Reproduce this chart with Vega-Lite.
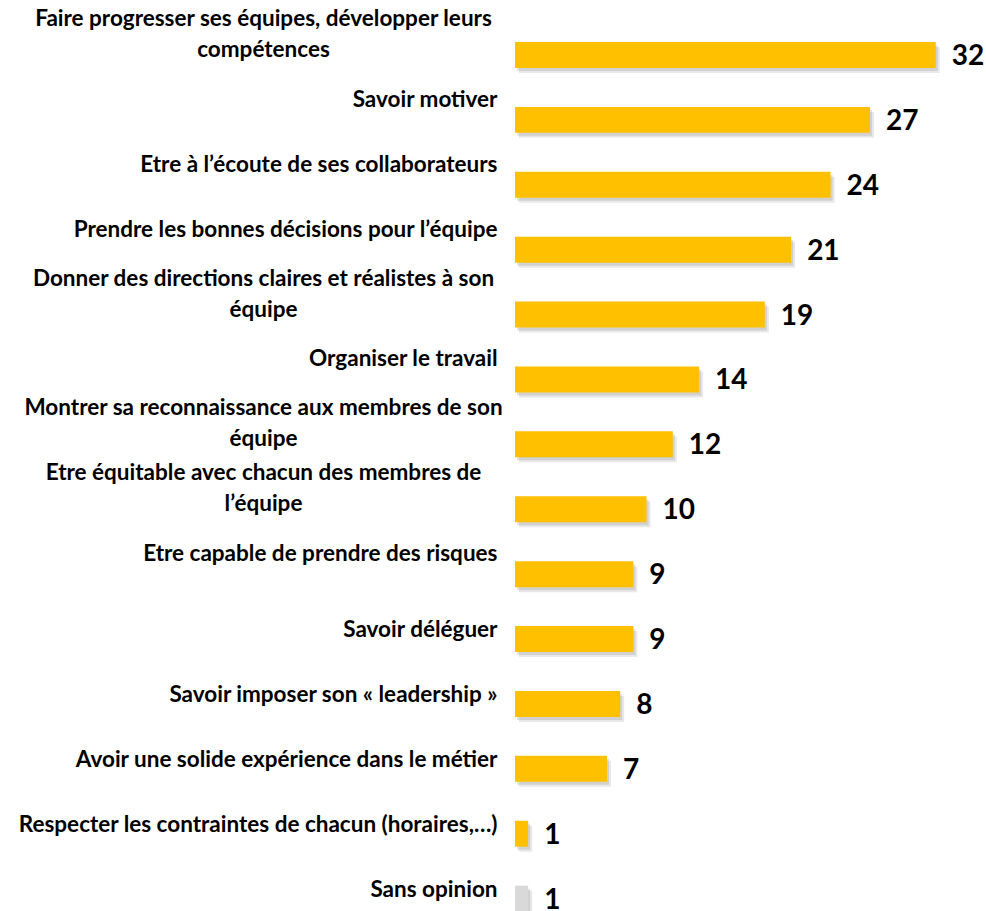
{
  "$schema": "https://vega.github.io/schema/vega-lite/v6.json",
  "width": 471,
  "height": 911,
  "autosize": {"type": "none"},
  "padding": {"left": 515, "top": 0, "right": 0, "bottom": 0},
  "background": "white",
  "config": {"view": {"stroke": null}},
  "data": {
    "values": [
      {"label": "Faire progresser ses équipes, développer leurs|compétences", "value": 32},
      {"label": "Savoir motiver", "value": 27},
      {"label": "Etre à l’écoute de ses collaborateurs", "value": 24},
      {"label": "Prendre les bonnes décisions pour l’équipe", "value": 21},
      {"label": "Donner des directions claires et réalistes à son|équipe", "value": 19},
      {"label": "Organiser le travail", "value": 14},
      {"label": "Montrer sa reconnaissance aux membres de son|équipe", "value": 12},
      {"label": "Etre équitable avec chacun des membres de|l’équipe", "value": 10},
      {"label": "Etre capable de prendre des risques", "value": 9},
      {"label": "Savoir déléguer", "value": 9},
      {"label": "Savoir imposer son « leadership »", "value": 8},
      {"label": "Avoir une solide expérience dans le métier", "value": 7},
      {"label": "Respecter les contraintes de chacun (horaires,…)", "value": 1},
      {"label": "Sans opinion", "value": 1}
    ]
  },
  "encoding": {
    "y": {
      "field": "label",
      "type": "nominal",
      "sort": null,
      "scale": {"range": [0, 953.6], "paddingInner": 0.6, "paddingOuter": 0.647},
      "axis": {
        "title": null,
        "domain": false,
        "ticks": false,
        "grid": false,
        "labelExpr": "split(datum.label, '|')",
        "labelFont": "Lato",
        "labelFontWeight": "bold",
        "labelFontSize": 22.5,
        "labelColor": "#000000",
        "labelLimit": 0,
        "labelLineHeight": 31,
        "labelOverlap": false,
        "labelBound": false,
        "labelBaseline": "middle",
        "labelAlign": {"condition": {"test": "indexof(datum.value, '|') >= 0", "value": "center"}, "value": "right"},
        "labelPadding": {"condition": {"test": "indexof(datum.value, '|') >= 0", "value": 252}, "value": 18},
        "labelOffset": {
          "condition": [
            {"test": "indexof(datum.value, '|') >= 0", "value": -36},
            {"test": "indexof(['Savoir déléguer','Savoir imposer son « leadership »','Avoir une solide expérience dans le métier','Respecter les contraintes de chacun (horaires,…)','Sans opinion'], datum.value) >= 0", "value": -9}
          ],
          "value": -20
        }
      }
    },
    "x": {
      "field": "value",
      "type": "quantitative",
      "scale": {"domain": [0, 35.82], "nice": false, "zero": true},
      "axis": null
    }
  },
  "layer": [
    {
      "mark": {"type": "bar", "color": "#7f7f7f", "opacity": 0.22, "xOffset": 2, "x2Offset": 2, "yOffset": 3, "y2Offset": 3}
    },
    {
      "mark": {"type": "bar", "color": "#7f7f7f", "opacity": 0.18, "xOffset": 4, "x2Offset": 4, "yOffset": 5, "y2Offset": 5}
    },
    {
      "mark": {"type": "bar"},
      "encoding": {
        "color": {"condition": {"test": "datum.label === 'Sans opinion'", "value": "#D9D9D9"}, "value": "#FFC000"}
      }
    },
    {
      "mark": {"type": "text", "align": "left", "baseline": "middle", "dx": 16, "dy": 2, "font": "Lato", "fontWeight": "bold", "fontSize": 28, "color": "#000000"},
      "encoding": {"text": {"field": "value", "type": "quantitative"}}
    }
  ]
}
